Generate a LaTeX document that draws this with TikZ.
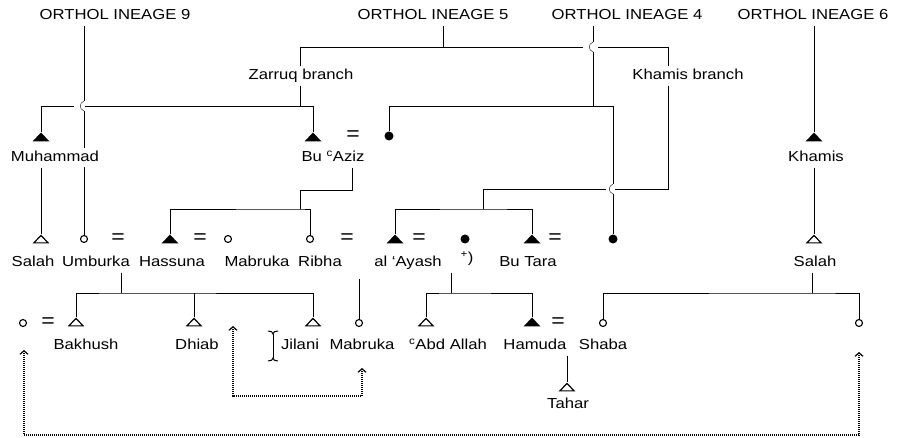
\documentclass[tikz,border=0pt]{standalone}
\usepackage{fontspec}
\setmainfont{Liberation Sans}[FakeStretch=1.15]
\usetikzlibrary{arrows.meta,backgrounds}
\newcommand{\kinfont}{\fontsize{14.5}{16}\selectfont}
\tikzset{
  lbl/.style={font=\kinfont,inner xsep=2pt,inner ysep=2.5pt,text height=11pt,text depth=3pt,fill=white},
  eqsign/.style={font=\fontsize{20}{20}\selectfont,inner sep=0pt},
  mfill/.style={minimum width=17pt,minimum height=9pt,inner sep=0pt,path picture={\fill (path picture bounding box.north) -- (path picture bounding box.south west) -- (path picture bounding box.south east) -- cycle;}},
  mopen/.style={minimum width=17pt,minimum height=9pt,inner sep=0pt,path picture={\draw[line width=1.2pt] ([yshift=-0.9pt]path picture bounding box.north) -- ([shift={(1.4pt,0.6pt)}]path picture bounding box.south west) -- ([shift={(-1.4pt,0.6pt)}]path picture bounding box.south east) -- cycle;}},
  ffill/.style={circle,fill,minimum size=9pt,inner sep=0pt},
  fopen/.style={circle,draw,fill=white,line width=1.1pt,minimum size=7pt,inner sep=0pt},
  dotlink/.style={line width=1.2pt,dash pattern=on 1pt off 1pt,>={Straight Barb[length=3.5pt,width=8pt]},<->}
}
\begin{document}
\begin{tikzpicture}[x=1pt,y=-1pt]
\useasboundingbox (0,0) rectangle (898,438);
\node[lbl] (l9) at (115,16) {ORTHOL INEAGE 9};
\node[lbl] (l5) at (433,16) {ORTHOL INEAGE 5};
\node[lbl] (l4) at (627,16) {ORTHOL INEAGE 4};
\node[lbl] (l6) at (813,16) {ORTHOL INEAGE 6};
\node[lbl] (zarruq) at (301,76) {Zarruq branch};
\node[lbl] (khb) at (688,76) {Khamis branch};
\node[mfill] (muh) at (41,137) {};
\node[lbl] (muhl) at (55,158) {Muhammad};
\node[mfill] (aziz) at (313,137) {};
\node[eqsign] (eqa) at (353,136) {=};
\node[ffill] (wa) at (389,136) {};
\node[lbl] (azizl) at (333,158) {Bu \textsuperscript{c}Aziz};
\node[mfill] (kham) at (814,137) {};
\node[lbl] (khaml) at (816,158) {Khamis};
\node[mopen] (salah) at (41,239) {};
\node[lbl] (salahl) at (33,263) {Salah};
\node[fopen] (umb) at (84,239) {};
\node[lbl] (umbl) at (96,263) {Umburka};
\node[eqsign] (eqb) at (118,239) {=};
\node[mfill] (has) at (170,239) {};
\node[lbl] (hasl) at (172,263) {Hassuna};
\node[eqsign] (eqc) at (200,239) {=};
\node[fopen] (mab) at (228,239) {};
\node[lbl] (mabl) at (257,263) {Mabruka};
\node[fopen] (rib) at (310,239) {};
\node[lbl] (ribl) at (320,263) {Ribha};
\node[eqsign] (eqd) at (347,239) {=};
\node[mfill] (aya) at (395,239) {};
\node[lbl] (ayal) at (408,263) {al ‘Ayash};
\node[eqsign] (eqe) at (419,239) {=};
\node[ffill] (wb) at (465,239) {};
\node[lbl,fill=none] (note) at (467,259) {\textsuperscript{+})};
\node[mfill] (tara) at (532,239) {};
\node[lbl] (taral) at (528,263) {Bu Tara};
\node[eqsign] (eqf) at (555,239) {=};
\node[ffill] (wc) at (613,239) {};
\node[mopen] (salahr) at (814,239) {};
\node[lbl] (salahrl) at (815,263) {Salah};
\node[fopen] (wd) at (23,323) {};
\node[eqsign] (eqg) at (48,323) {=};
\node[mopen] (bak) at (76,322) {};
\node[lbl] (bakl) at (86,346) {Bakhush};
\node[mopen] (dhi) at (194,322) {};
\node[lbl] (dhil) at (197,346) {Dhiab};
\node[mopen] (jil) at (313,322) {};
\node[lbl] (jill) at (300,346) {Jilani};
\node[fopen] (mab2) at (359,323) {};
\node[lbl] (mab2l) at (362,346) {Mabruka};
\node[mopen] (abd) at (426,322) {};
\node[lbl] (abdl) at (448,346) {\textsuperscript{c}Abd Allah};
\node[mfill] (ham) at (532,322) {};
\node[lbl] (haml) at (535,346) {Hamuda};
\node[eqsign] (eqh) at (558,323) {=};
\node[fopen] (sha) at (603,323) {};
\node[lbl] (shal) at (603,346) {Shaba};
\node[fopen] (we) at (859,323) {};
\node[mopen] (tah) at (567,387) {};
\node[lbl] (tahl) at (568,405) {Tahar};
\draw[line width=1pt] (268,331) .. controls (271,331) and (273,332) .. (273,334) .. controls (273,332) and (275,331) .. (278,331);
\draw[line width=1pt] (268,361) .. controls (271,361) and (273,360) .. (273,358) .. controls (273,360) and (275,361) .. (278,361);
\draw[line width=1pt] (273,334) -- (273,358);
\begin{scope}[on background layer,line width=1.2pt]
\coordinate (x9) at (84,106);
\coordinate (jz) at (300,47);
\coordinate (j5) at (443,47);
\coordinate (x4) at (593,47);
\coordinate (x6) at (613,189);
\coordinate (jk) at (668,189);
\coordinate (jc) at (483,209);
\coordinate (je) at (300,190);
\coordinate (jd) at (300,209);
\coordinate (jf) at (121,293);
\coordinate (jg) at (359,279);
\coordinate (jh) at (451,293);
\coordinate (ji) at (812,293);
\draw (l9.south -| x9) -- ([yshift=5pt]x9);
\draw ([yshift=5pt]x9) .. controls ([shift={(-5pt,3pt)}]x9) and ([shift={(-5pt,-3pt)}]x9) .. ([yshift=-5pt]x9);
\draw ([yshift=-5pt]x9) -- (umb);
\draw (muh) |- ([xshift=-10pt]x9);
\draw ([xshift=1pt]x9) -| (aziz);
\draw (l5.south -| j5) -- (j5);
\draw (jz) -- ([xshift=-10pt]x4);
\draw (jz) -- (zarruq.north -| jz);
\draw (zarruq.south -| jz) -- (jz |- x9);
\draw ([xshift=5pt]x4) -| (khb.north -| jk);
\draw (khb.south -| jk) -- (jk) -- ([xshift=2pt]x6);
\draw (l4.south -| x4) -- ([yshift=5pt]x4);
\draw ([yshift=5pt]x4) .. controls ([shift={(-5pt,3pt)}]x4) and ([shift={(-5pt,-3pt)}]x4) .. ([yshift=-5pt]x4);
\draw ([yshift=-5pt]x4) -- (x4 |- x9);
\draw (wa) |- (x6 |- x9) -- ([yshift=5pt]x6);
\draw ([yshift=5pt]x6) .. controls ([shift={(-5pt,3pt)}]x6) and ([shift={(-5pt,-3pt)}]x6) .. ([yshift=-5pt]x6);
\draw ([yshift=-5pt]x6) -- (wc);
\draw ([xshift=-7pt]x6) -| (jc);
\draw (aya) |- (jc) -| (tara);
\draw ([xshift=19pt]azizl.south) |- (je) -- (jd);
\draw (has) |- (jd) -| (rib);
\draw (muhl.south -| salah) -- (salah);
\draw (l6.south -| kham) -- (kham);
\draw (khaml.south -| salahr) -- (salahr);
\draw (umbl.south -| jf) -- (jf);
\draw (bak) |- (jf) -| (jil);
\draw (dhi) -- (dhi |- jf);
\draw (jg) -- (mab2);
\draw (ayal.south -| jh) -- (jh);
\draw (abd) |- (jh) -| (ham);
\draw (salahrl.south -| ji) -- (ji);
\draw (sha) |- (ji) -| (we);
\draw (haml.south -| tah) -- (tah);
\end{scope}
\coordinate (ta) at (233,326);
\coordinate (tb) at (362,368);
\coordinate (tc) at (24,350);
\coordinate (td) at (859,352);
\draw[dotlink] (ta) -- ++(0,70) -| (tb);
\draw[dotlink] (tc) -- ++(0,85) -| (td);
\end{tikzpicture}
\end{document}
